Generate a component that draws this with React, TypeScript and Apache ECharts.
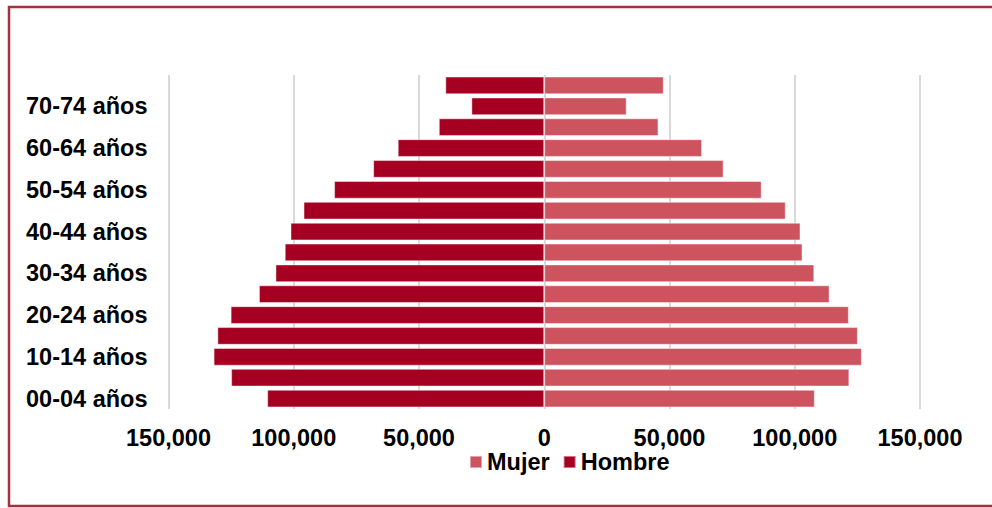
import React, { useEffect, useRef } from "react";
import * as echarts from "echarts";

const categories = [
  "00-04 años", "05-09 años", "10-14 años", "15-19 años",
  "20-24 años", "25-29 años", "30-34 años", "35-39 años",
  "40-44 años", "45-49 años", "50-54 años", "55-59 años",
  "60-64 años", "65-69 años", "70-74 años", "75-79 años",
];

const hombre = [
  110600, 125000, 132000, 130500, 125200, 113900, 107300, 103600,
  101300, 96100, 83900, 68300, 58500, 42100, 29100, 39500,
];

const mujer = [
  108000, 121800, 126800, 125200, 121600, 113900, 107800, 103100,
  102300, 96400, 86800, 71600, 63000, 45600, 32900, 47700,
];

const xTicks = { min: -150000, max: 150000, interval: 50000 };

const FONT = "'Liberation Sans', Arial, sans-serif";

export default function App() {
  const ref = useRef<HTMLDivElement>(null);

  useEffect(() => {
    if (!ref.current) return;
    const chart = echarts.init(ref.current, undefined, { renderer: "svg" });
    chart.setOption({
      animation: false,
      backgroundColor: "#ffffff",
      textStyle: { fontFamily: FONT },
      graphic: [
        {
          type: "rect",
          shape: { x: 9, y: 7, width: 1000, height: 499 },
          style: { fill: "none", stroke: "#A5303F", lineWidth: 2.5 },
          silent: true,
        },
      ],
      legend: {
        data: ["Mujer", "Hombre"],
        left: 469,
        top: 450,
        padding: 0,
        itemWidth: 12,
        itemHeight: 12,
        itemGap: 13,
        icon: "rect",
        textStyle: {
          fontFamily: FONT,
          fontSize: 23.5,
          fontWeight: "bold",
          color: "#000",
          padding: [0, 0, 0, 0],
        },
      },
      grid: {
        left: 168.5,
        right: 72,
        top: 75,
        bottom: 99,
        containLabel: false,
      },
      xAxis: {
        type: "value",
        min: xTicks.min,
        max: xTicks.max,
        interval: xTicks.interval,
        axisLine: { show: false },
        axisTick: { show: false },
        splitLine: { show: true, lineStyle: { color: "#D9D9D9", width: 2 } },
        axisLabel: {
          margin: 17,
          fontFamily: FONT,
          fontSize: 23.5,
          fontWeight: "bold",
          color: "#000",
          formatter: (v: number) => Math.abs(v).toLocaleString("en-US"),
        },
      },
      yAxis: {
        type: "category",
        data: categories,
        position: "left",
        axisLine: { show: false, onZero: false },
        axisTick: { show: false },
        splitLine: { show: false },
        axisLabel: {
          interval: 1,
          margin: 21,
          fontFamily: FONT,
          fontSize: 23.5,
          fontWeight: "bold",
          color: "#000",
        },
      },
      series: [
        {
          name: "Mujer",
          type: "bar",
          stack: "pop",
          barCategoryGap: "15%",
          data: mujer,
          itemStyle: {
            color: "#CD535F",
            borderColor: "rgba(255,255,255,0.45)",
            borderWidth: 1,
          },
        },
        {
          name: "Hombre",
          type: "bar",
          stack: "pop",
          barCategoryGap: "15%",
          data: hombre.map((v) => -v),
          itemStyle: {
            color: "#A50021",
            borderColor: "rgba(255,255,255,0.45)",
            borderWidth: 1,
          },
        },
      ],
    });
    return () => chart.dispose();
  }, []);

  return (
    <div
      ref={ref}
      style={{ position: "fixed", left: 0, top: 0, width: 992, height: 508 }}
    />
  );
}
